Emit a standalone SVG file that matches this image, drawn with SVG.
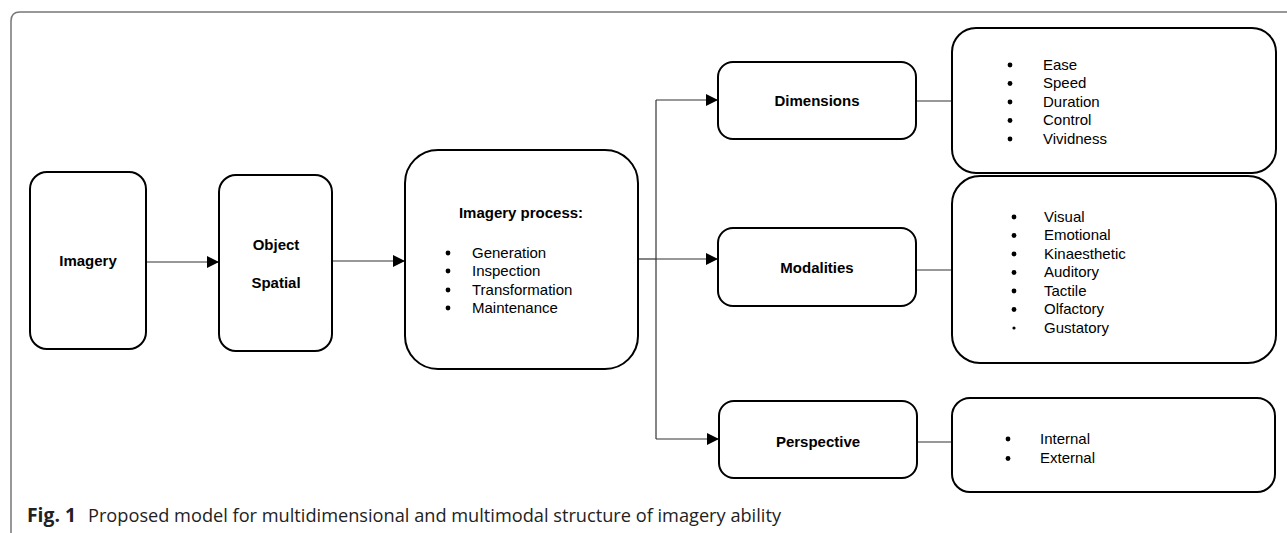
<svg xmlns="http://www.w3.org/2000/svg" width="1287" height="533" viewBox="0 0 1287 533">
<style>
.box{fill:#fff;stroke:#000;stroke-width:2}
.b{font-family:"Liberation Sans",Arial,sans-serif;font-size:15px;font-weight:bold;fill:#000;text-anchor:middle}
.t{font-family:"Liberation Sans",Arial,sans-serif;font-size:15px;fill:#000}
.bul{fill:#000}
.con{fill:none;stroke:#333;stroke-width:1.2}
.cap{font-family:"Open Sans","Noto Sans",sans-serif;font-size:19px;fill:#222}
</style>
<defs>
<marker id="arr" markerUnits="userSpaceOnUse" markerWidth="13" markerHeight="13" refX="12" refY="6" orient="auto">
<path d="M0,0 L12,6 L0,12 z" fill="#000"/>
</marker>
</defs>
<path id="frame" d="M11,533 V21 Q11,12 20,12 H1287" fill="none" stroke="#777" stroke-width="1.5"/>
<g id="connectors">
<path class="con" d="M146,262 H219" marker-end="url(#arr)"/>
<path class="con" d="M332,261 H405" marker-end="url(#arr)"/>
<path class="con" d="M638,259 H656"/>
<path class="con" d="M656,100 V439"/>
<path class="con" d="M656,100 H718" marker-end="url(#arr)"/>
<path class="con" d="M656,259 H718" marker-end="url(#arr)"/>
<path class="con" d="M656,439 H719" marker-end="url(#arr)"/>
<path class="con" d="M916,101 H952"/>
<path class="con" d="M916,270 H952"/>
<path class="con" d="M917,442 H952"/>
</g>
<g id="imagery">
<rect class="box" x="30" y="172" width="116" height="177" rx="17"/>
<text class="b" x="88" y="266">Imagery</text>
</g>
<g id="object-spatial">
<rect class="box" x="219" y="175" width="113" height="176" rx="17"/>
<text class="b" x="276" y="250">Object</text>
<text class="b" x="276" y="288">Spatial</text>
</g>
<g id="imagery-process">
<rect class="box" x="405" y="150" width="233" height="219" rx="33"/>
<text class="b" x="521" y="218">Imagery process:</text>
<circle class="bul" cx="448" cy="253" r="2.4"/>
<circle class="bul" cx="448" cy="271" r="2.4"/>
<circle class="bul" cx="448" cy="290" r="2.4"/>
<circle class="bul" cx="448" cy="308" r="2.4"/>
<text class="t" x="472" y="257.5">Generation</text>
<text class="t" x="472" y="275.5">Inspection</text>
<text class="t" x="472" y="294.5">Transformation</text>
<text class="t" x="472" y="312.5">Maintenance</text>
</g>
<g id="dimensions">
<rect class="box" x="718" y="62" width="198" height="77" rx="15"/>
<text class="b" x="817" y="106">Dimensions</text>
</g>
<g id="modalities">
<rect class="box" x="718" y="228" width="198" height="78" rx="15"/>
<text class="b" x="817" y="273">Modalities</text>
</g>
<g id="perspective">
<rect class="box" x="719" y="401" width="198" height="77" rx="15"/>
<text class="b" x="818" y="446.5">Perspective</text>
</g>
<g id="dimensions-list">
<rect class="box" x="952" y="28" width="324" height="145" rx="24"/>
<circle class="bul" cx="1010" cy="65" r="2.4"/>
<circle class="bul" cx="1010" cy="83.5" r="2.4"/>
<circle class="bul" cx="1010" cy="102" r="2.4"/>
<circle class="bul" cx="1010" cy="120.5" r="2.4"/>
<circle class="bul" cx="1010" cy="139" r="2.4"/>
<text class="t" x="1043" y="69.5">Ease</text>
<text class="t" x="1043" y="88">Speed</text>
<text class="t" x="1043" y="106.5">Duration</text>
<text class="t" x="1043" y="125">Control</text>
<text class="t" x="1043" y="143.5">Vividness</text>
</g>
<g id="modalities-list">
<rect class="box" x="952" y="176" width="324" height="187" rx="28"/>
<circle class="bul" cx="1014" cy="217" r="2.4"/>
<circle class="bul" cx="1014" cy="235.5" r="2.4"/>
<circle class="bul" cx="1014" cy="254" r="2.4"/>
<circle class="bul" cx="1014" cy="272.5" r="2.4"/>
<circle class="bul" cx="1014" cy="291" r="2.4"/>
<circle class="bul" cx="1014" cy="309.5" r="2.4"/>
<circle class="bul" cx="1014" cy="328" r="1.6"/>
<text class="t" x="1044" y="221.5">Visual</text>
<text class="t" x="1044" y="240">Emotional</text>
<text class="t" x="1044" y="258.5">Kinaesthetic</text>
<text class="t" x="1044" y="277">Auditory</text>
<text class="t" x="1044" y="295.5">Tactile</text>
<text class="t" x="1044" y="314">Olfactory</text>
<text class="t" x="1044" y="332.5">Gustatory</text>
</g>
<g id="perspective-list">
<rect class="box" x="952" y="398" width="323" height="94" rx="18"/>
<circle class="bul" cx="1008" cy="439" r="2.4"/>
<circle class="bul" cx="1008" cy="458.5" r="2.4"/>
<text class="t" x="1040" y="443.5">Internal</text>
<text class="t" x="1040" y="463">External</text>
</g>
<g id="caption">
<text class="cap" x="27" y="522" font-weight="bold" textLength="49" lengthAdjust="spacingAndGlyphs">Fig. 1</text>
<text class="cap" x="88" y="522" textLength="693" lengthAdjust="spacingAndGlyphs">Proposed model for multidimensional and multimodal structure of imagery ability</text>
</g>
</svg>
